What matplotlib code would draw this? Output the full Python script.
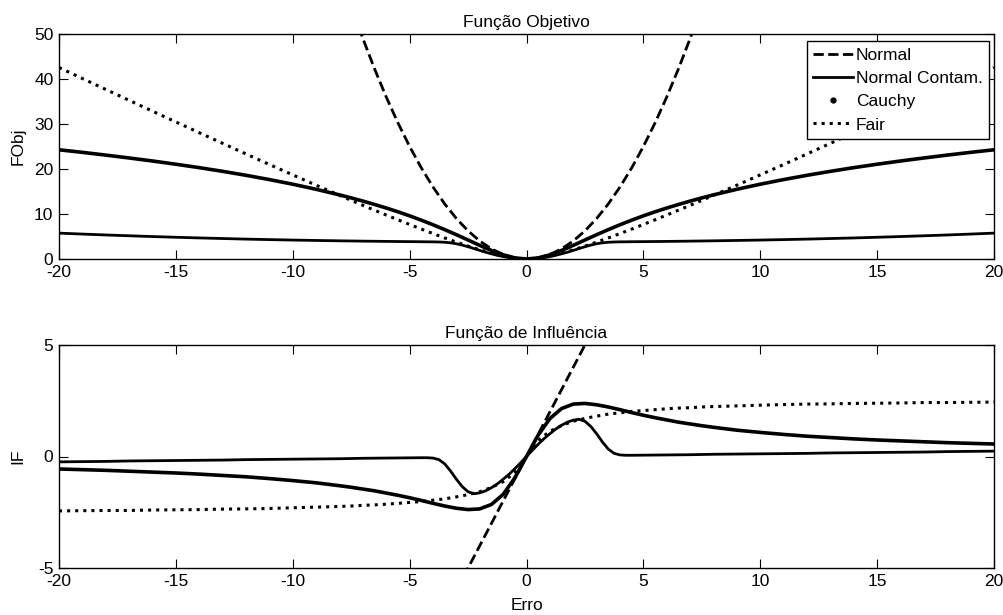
#!/usr/bin/env python
# Funcoes objetivo e de influencia para estimadores robustos
# Normal, Normal Contaminada, Cauchy e Fair, erro de -20 a 20

import matplotlib
matplotlib.use('Agg')
import matplotlib.pyplot as plt
from matplotlib.lines import Line2D

plt.rcParams['font.family'] = ['Liberation Sans', 'DejaVu Sans']
plt.rcParams['font.size'] = 12.5
plt.rcParams['axes.unicode_minus'] = False

#%% Dados - grade comum (Normal, Cauchy, Fair)
err = [-20, -19, -18, -17, -16, -15, -14, -13, -12, -11, -10, -9,
       -8, -7.5, -7, -6.5, -6, -5.5, -5, -4.5, -4, -3.5, -3, -2.5, -2, -1.5, -1, -0.5,
       0, 0.5, 1, 1.5, 2, 2.5, 3, 3.5, 4, 4.5, 5, 5.5, 6, 6.5, 7, 7.5, 8,
       9, 10, 11, 12, 13, 14, 15, 16, 17, 18, 19, 20]

normal_obj = [400, 361, 324, 289, 256, 225, 196, 169, 144, 121, 100, 81,
              64, 56.25, 49, 42.25, 36, 30.25, 25, 20.25, 16, 12.25, 9, 6.25, 4, 2.25, 1, 0.25,
              0, 0.25, 1, 2.25, 4, 6.25, 9, 12.25, 16, 20.25, 25, 30.25, 36, 42.25, 49, 56.25, 64,
              81, 100, 121, 144, 169, 196, 225, 256, 289, 324, 361, 400]
normal_if = [-40, -38, -36, -34, -32, -30, -28, -26, -24, -22, -20, -18,
             -16, -15, -14, -13, -12, -11, -10, -9, -8, -7, -6, -5, -4, -3, -2, -1,
             0, 1, 2, 3, 4, 5, 6, 7, 8, 9, 10, 11, 12, 13, 14, 15, 16,
             18, 20, 22, 24, 26, 28, 30, 32, 34, 36, 38, 40]

cauchy_obj = [24.27, 23.70, 23.09, 22.45, 21.78, 21.06, 20.30, 19.48, 18.60, 17.65, 16.62, 15.49,
              14.25, 13.58, 12.87, 12.12, 11.33, 10.49, 9.59, 8.63, 7.61, 6.53, 5.40, 4.22, 3.03, 1.90, 0.92, 0.24,
              0, 0.24, 0.92, 1.90, 3.03, 4.22, 5.40, 6.53, 7.61, 8.63, 9.59, 10.49, 11.33, 12.12, 12.87, 13.58, 14.25,
              15.49, 16.62, 17.65, 18.60, 19.48, 20.30, 21.06, 21.78, 22.45, 23.09, 23.70, 24.27]
cauchy_if = [-0.56, -0.59, -0.62, -0.66, -0.70, -0.74, -0.79, -0.85, -0.91, -0.99, -1.08, -1.18,
             -1.31, -1.38, -1.46, -1.54, -1.64, -1.74, -1.85, -1.97, -2.10, -2.22, -2.32, -2.38, -2.35, -2.15, -1.70, -0.96,
             0, 0.96, 1.70, 2.15, 2.35, 2.38, 2.32, 2.22, 2.10, 1.97, 1.85, 1.74, 1.64, 1.54, 1.46, 1.38, 1.31,
             1.18, 1.08, 0.99, 0.91, 0.85, 0.79, 0.74, 0.70, 0.66, 0.62, 0.59, 0.56]

fair_obj = [42.55, 40.11, 37.68, 35.26, 32.85, 30.45, 28.07, 25.70, 23.34, 21.00, 18.69, 16.40,
            14.15, 13.04, 11.93, 10.84, 9.77, 8.71, 7.67, 6.65, 5.65, 4.68, 3.76, 2.87, 2.05, 1.31, 0.67, 0.20,
            0, 0.20, 0.67, 1.31, 2.05, 2.87, 3.76, 4.68, 5.65, 6.65, 7.67, 8.71, 9.77, 10.84, 11.93, 13.04, 14.15,
            16.40, 18.69, 21.00, 23.34, 25.70, 28.07, 30.45, 32.85, 35.26, 37.68, 40.11, 42.55]
fair_if = [-2.44, -2.43, -2.42, -2.42, -2.40, -2.39, -2.38, -2.36, -2.35, -2.33, -2.30, -2.27,
           -2.24, -2.22, -2.19, -2.17, -2.14, -2.10, -2.06, -2.02, -1.96, -1.90, -1.81, -1.71, -1.58, -1.39, -1.13, -0.72,
           0, 0.72, 1.13, 1.39, 1.58, 1.71, 1.81, 1.90, 1.96, 2.02, 2.06, 2.10, 2.14, 2.17, 2.19, 2.22, 2.24,
           2.27, 2.30, 2.33, 2.35, 2.36, 2.38, 2.39, 2.40, 2.42, 2.42, 2.43, 2.44]

#%% Normal contaminada - grade mais fina perto da origem
err_ct = [-20, -19, -18, -17, -16, -15, -14, -13, -12, -11, -10, -9, -8, -7, -6, -5,
          -4.5, -4.25, -4, -3.75, -3.5, -3.25, -3, -2.75, -2.5, -2.25, -2, -1.75, -1.5, -1.25, -1, -0.75, -0.5, -0.25,
          0,
          0.25, 0.5, 0.75, 1, 1.25, 1.5, 1.75, 2, 2.25, 2.5, 2.75, 3, 3.25, 3.5, 3.75, 4, 4.25, 4.5,
          5, 6, 7, 8, 9, 10, 11, 12, 13, 14, 15, 16, 17, 18, 19, 20]
contam_obj = [5.75, 5.54, 5.34, 5.16, 4.99, 4.83, 4.68, 4.55, 4.42, 4.31, 4.21, 4.12, 4.04, 3.97, 3.91, 3.86,
              3.84, 3.82, 3.81, 3.78, 3.72, 3.60, 3.39, 3.09, 2.73, 2.32, 1.91, 1.51, 1.15, 0.82, 0.54, 0.31, 0.14, 0.04,
              0,
              0.04, 0.14, 0.31, 0.54, 0.82, 1.15, 1.51, 1.91, 2.32, 2.73, 3.09, 3.39, 3.60, 3.72, 3.78, 3.81, 3.82, 3.84,
              3.86, 3.91, 3.97, 4.04, 4.12, 4.21, 4.31, 4.42, 4.55, 4.68, 4.83, 4.99, 5.16, 5.34, 5.54, 5.75]
contam_if = [-0.24, -0.23, -0.22, -0.20, -0.19, -0.18, -0.17, -0.16, -0.14, -0.13, -0.12, -0.11, -0.10, -0.08, -0.07, -0.06,
             -0.055, -0.055, -0.07, -0.14, -0.33, -0.65, -1.02, -1.35, -1.58, -1.67, -1.63, -1.54, -1.40, -1.23, -1.02, -0.80, -0.55, -0.28,
             0,
             0.28, 0.55, 0.80, 1.02, 1.23, 1.40, 1.54, 1.63, 1.67, 1.58, 1.35, 1.02, 0.65, 0.33, 0.14, 0.07, 0.055, 0.055,
             0.06, 0.07, 0.08, 0.10, 0.11, 0.12, 0.13, 0.14, 0.16, 0.17, 0.18, 0.19, 0.20, 0.22, 0.23, 0.24]

labels = ['Normal', 'Normal Contam.', 'Cauchy', 'Fair']
x_ticks = [-20, -15, -10, -5, 0, 5, 10, 15, 20]

#%% Figura
W, H = 1004, 615
fig = plt.figure(figsize=(W/100, H/100), dpi=100)
ax1 = fig.add_axes([59/W, 1 - 259/H, (994 - 59)/W, (259 - 34)/H])
ax2 = fig.add_axes([59/W, 1 - 568/H, (994 - 59)/W, (568 - 345)/H])

# funcao objetivo
ax1.plot(err, normal_obj, 'k--', lw=2)
ax1.plot(err_ct, contam_obj, 'k-', lw=2)
ax1.plot(err, cauchy_obj, 'k-', lw=2.6)
ax1.plot(err, fair_obj, 'k:', lw=2.2)
ax1.set_ylim(0, 50)
ax1.set_yticks([0, 10, 20, 30, 40, 50])
ax1.set_ylabel('FObj')
ax1.set_title('Função Objetivo', fontsize=12.5, pad=5)

# funcao de influencia
ax2.plot(err, normal_if, 'k--', lw=2)
ax2.plot(err_ct, contam_if, 'k-', lw=2)
ax2.plot(err, cauchy_if, 'k-', lw=2.6)
ax2.plot(err, fair_if, 'k:', lw=2.2)
ax2.set_ylim(-5, 5)
ax2.set_yticks([-5, 0, 5])
ax2.set_ylabel('IF')
ax2.set_xlabel('Erro', labelpad=7)
ax2.set_title('Função de Influência', fontsize=12.5, pad=5)

for ax in (ax1, ax2):
	ax.set_xlim(-20, 20)
	ax.set_xticks(x_ticks)
	ax.tick_params(direction='in', top=True, right=True, length=6.5, width=0.8, pad=4)
	for sp in ax.spines.values():
		sp.set_linewidth(1.0)
	ax.yaxis.set_label_coords(-0.036, 0.5)

# legenda: Cauchy aparece so como ponto
handles = [Line2D([], [], color='k', ls='--', lw=2),
		   Line2D([], [], color='k', ls='-', lw=2),
		   Line2D([], [], color='k', ls='none', marker='.', ms=7),
		   Line2D([], [], color='k', ls=':', lw=2.2)]
leg = ax1.legend(handles, labels, loc='upper right', bbox_to_anchor=(989/W, 1 - 41/H),
				 bbox_transform=fig.transFigure, borderaxespad=0, fancybox=False, framealpha=1,
				 edgecolor='k', handlelength=2.3, handletextpad=0.15, labelspacing=0.47,
				 borderpad=0.37, fontsize=12.5)
leg.get_frame().set_linewidth(1.0)

fig.savefig('out.png', dpi=100)
